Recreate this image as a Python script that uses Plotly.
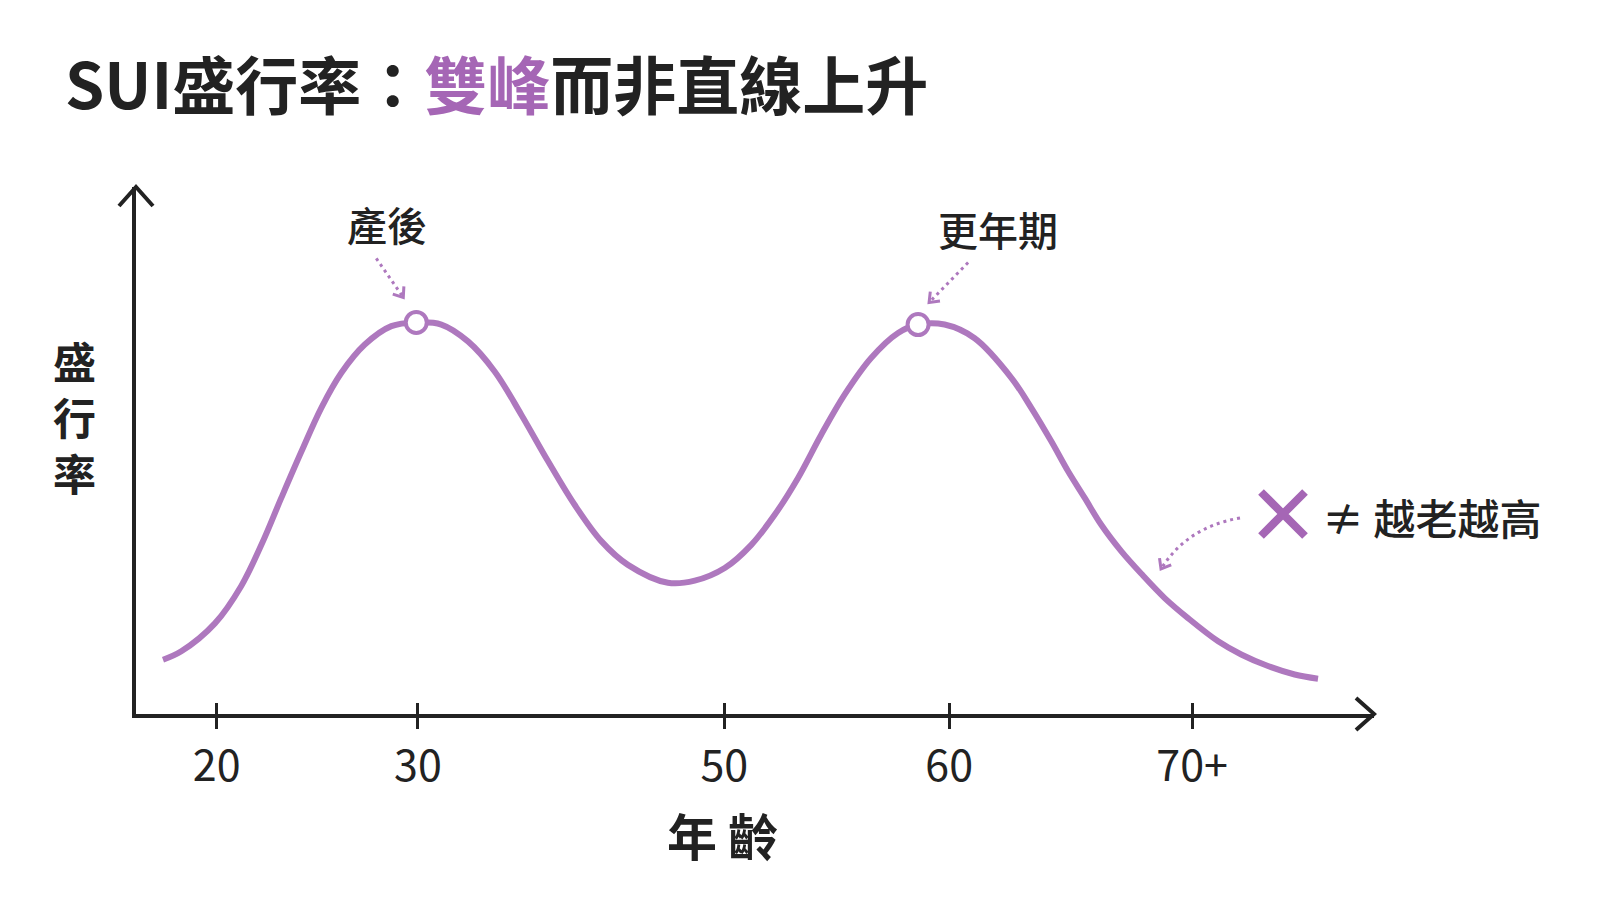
import numpy as np
import plotly.graph_objects as go

# ---------------- data ----------------
age_tick_values = [20, 30, 50, 60, 70]
age_tick_labels = ["20", "30", "50", "60", "70+"]

curve_age = [17.33, 18.24, 19.91, 21.22, 22.22, 23.21, 24.21, 25.20, 26.19, 27.36, 28.68, 29.92,
             31.53, 33.27, 35.01, 36.75, 38.49, 40.23, 41.97, 43.71, 46.32,
             48.07, 50.02, 51.20, 52.24, 53.28, 54.31, 55.35, 56.54, 57.73, 58.62,
             59.80, 61.05, 62.56, 63.38, 64.21, 64.89, 65.58, 66.26, 67.08, 67.91, 68.87,
             69.83, 71.07, 72.02, 73.12, 74.22, 75.18]
curve_prevalence = [10.3, 11.9, 17.2, 24.3, 32.1, 41.0, 49.8, 58.1, 64.7, 70.1, 73.6, 74.3,
                    73.9, 70.7, 65.0, 56.8, 48.0, 39.7, 32.8, 28.3, 24.9,
                    25.3, 27.7, 32.1, 37.8, 44.8, 53.0, 60.6, 67.6, 72.3, 73.9,
                    73.9, 71.3, 63.8, 58.1, 51.7, 46.1, 41.0, 35.9, 30.9, 26.6, 22.0,
                    18.2, 13.8, 11.3, 9.1, 7.5, 6.7]

peak_labels = ["產後", "更年期"]
peak_age = [29.92, 58.62]
peak_prevalence = [74.3, 73.9]

title_lead = "SUI盛行率："
title_highlight = "雙峰"
title_tail = "而非直線上升"
x_axis_title = "年 齡"
y_axis_title = "盛行率"
note_text = "≠ 越老越高"

# ---------------- style ----------------
W, H = 1600, 900
M_L, M_R, M_T, M_B = 128, 234, 179, 194
PURPLE = "#ae78be"
PURPLE_DARK = "#a566b5"
DARK = "#222222"
FONT = "Noto Sans CJK TC, Noto Sans, sans-serif"
# the reference axis is not linear in age: fractional placement of each age tick
tick_frac = [0.0652, 0.2277, 0.4752, 0.6568, 0.8531]


def age_to_pos(a):
    a = np.atleast_1d(np.asarray(a, float))
    xs = np.array(age_tick_values, float)
    ps = np.array(tick_frac, float)
    out = np.interp(a, xs, ps)
    lo, hi = a < xs[0], a > xs[-1]
    out[lo] = ps[0] + (a[lo] - xs[0]) * (ps[1] - ps[0]) / (xs[1] - xs[0])
    out[hi] = ps[-1] + (a[hi] - xs[-1]) * (ps[-1] - ps[-2]) / (xs[-1] - xs[-2])
    return out


def chevron(tip, direction, arm=11, ang=38):
    d = np.array(direction, float)
    d = d / np.linalg.norm(d)
    pts = []
    for s in (1, -1):
        t = np.radians(s * ang)
        r = np.array([d[0] * np.cos(t) - d[1] * np.sin(t), d[0] * np.sin(t) + d[1] * np.cos(t)])
        pts.append(np.array(tip) - arm * r)
    return "M {:.1f},{:.1f} L {:.1f},{:.1f} L {:.1f},{:.1f}".format(
        pts[0][0], pts[0][1], tip[0], tip[1], pts[1][0], pts[1][1])


fig = go.Figure()
fig.add_trace(go.Scatter(
    x=age_to_pos(curve_age), y=curve_prevalence, mode="lines",
    line=dict(color=PURPLE, width=6, shape="spline", smoothing=1.0),
    hoverinfo="skip", showlegend=False))
fig.add_trace(go.Scatter(
    x=age_to_pos(peak_age), y=peak_prevalence, mode="markers",
    marker=dict(symbol="circle", size=21, color="white", line=dict(color=PURPLE, width=4)),
    hoverinfo="skip", showlegend=False))
# invisible trace on the overlaid axis that draws the inner half of the ticks
fig.add_trace(go.Scatter(x=[0, 1], y=[0, 0], xaxis="x2", mode="lines",
                         line=dict(width=0), hoverinfo="skip", showlegend=False))

tick_pos = age_to_pos(age_tick_values).tolist()
axis_common = dict(range=[0, 1], showgrid=False, zeroline=False, fixedrange=True,
                   tickmode="array", tickvals=tick_pos)

shapes = []
# axis arrow heads
shapes.append(dict(type="path", xref="paper", yref="paper", xsizemode="pixel", ysizemode="pixel",
                   xanchor=0, yanchor=1, path="M -17,-19 L 0,0 L 17,-19",
                   line=dict(color=DARK, width=4)))
shapes.append(dict(type="path", xref="paper", yref="paper", xsizemode="pixel", ysizemode="pixel",
                   xanchor=1, yanchor=0, path="M -18,16 L 0,0 L -18,-16",
                   line=dict(color=DARK, width=4)))

# dotted pointers to the peaks (pixel offsets relative to each peak)
pointer_offsets = [((-40, 64), (-13, 25)), ((50, 62), (11, 22))]
for (px, py), ((sx, sy), (ex, ey)) in zip(zip(age_to_pos(peak_age), peak_prevalence), pointer_offsets):
    shapes.append(dict(type="line", xref="x", yref="y", xsizemode="pixel", ysizemode="pixel",
                       xanchor=px, yanchor=py, x0=sx, y0=sy, x1=ex, y1=ey,
                       line=dict(color=PURPLE, width=3, dash="3px,4px")))
    shapes.append(dict(type="path", xref="x", yref="y", xsizemode="pixel", ysizemode="pixel",
                       xanchor=px, yanchor=py, path=chevron((ex, ey), (ex - sx, ey - sy)),
                       line=dict(color=PURPLE, width=3)))

# cross mark and curved dotted pointer
cross_x, cross_y = 0.9265, 0.3795
shapes.append(dict(type="path", xref="paper", yref="paper", xsizemode="pixel", ysizemode="pixel",
                   xanchor=cross_x, yanchor=cross_y,
                   path="M -22,-22 L 22,22 M -22,22 L 22,-22",
                   line=dict(color=PURPLE_DARK, width=8)))
shapes.append(dict(type="path", xref="paper", yref="paper", xsizemode="pixel", ysizemode="pixel",
                   xanchor=cross_x, yanchor=cross_y,
                   path="M -43,-4 Q -96,-13 -122,-55",
                   line=dict(color=PURPLE, width=3, dash="3px,4px")))
shapes.append(dict(type="path", xref="paper", yref="paper", xsizemode="pixel", ysizemode="pixel",
                   xanchor=cross_x, yanchor=cross_y,
                   path=chevron((-122, -55), (-24, -41)),
                   line=dict(color=PURPLE, width=3)))

annotations = []
peak_label_shift = [(-29, 98), (80, 96)]
for lab, a, p, (dx, dy) in zip(peak_labels, peak_age, peak_prevalence, peak_label_shift):
    annotations.append(dict(x=float(age_to_pos(a)[0]), y=p, xref="x", yref="y", text=lab,
                            showarrow=False, xshift=dx, yshift=dy, xanchor="center", yanchor="middle",
                            font=dict(size=40, color=DARK, family=FONT, weight=500)))
annotations.append(dict(x=-0.05, y=0.566, xref="paper", yref="paper", xanchor="center", yanchor="middle",
                        text="<br>".join(list(y_axis_title)), showarrow=False,
                        font=dict(size=43, color=DARK, family=FONT, weight=700)))
annotations.append(dict(x=0.474, y=-0.227, xref="paper", yref="paper", text=x_axis_title,
                        xanchor="center", yanchor="middle", showarrow=False,
                        font=dict(size=50, color=DARK, family=FONT, weight=700)))
annotations.append(dict(x=0.956, y=0.3757, xref="paper", yref="paper", text=note_text,
                        showarrow=False, xanchor="left", yanchor="middle",
                        font=dict(size=42, color=DARK, family=FONT, weight=500)))

fig.update_layout(
    width=W, height=H, margin=dict(l=M_L, r=M_R, t=M_T, b=M_B),
    paper_bgcolor="white", plot_bgcolor="white",
    font=dict(family=FONT, color=DARK),
    title=dict(text=f"{title_lead}<span style='color:{PURPLE_DARK}'>{title_highlight}</span>{title_tail}",
               x=57 / W, xanchor="left", xref="container", y=1 - 79 / H, yanchor="middle",
               yref="container", font=dict(size=63, color=DARK, family=FONT, weight=700)),
    xaxis=dict(**axis_common, ticktext=age_tick_labels, ticks="outside", ticklen=11,
               tickwidth=3, tickcolor=DARK, showline=True, linewidth=4, linecolor=DARK,
               ticklabelstandoff=0,
               tickfont=dict(size=43, color=DARK, family=FONT)),
    xaxis2=dict(**axis_common, overlaying="x", matches="x", anchor="y", side="bottom",
                ticks="inside", ticklen=11, tickwidth=3, tickcolor=DARK,
                showticklabels=False, showline=False),
    yaxis=dict(range=[0, 100], showgrid=False, zeroline=False, fixedrange=True,
               showticklabels=False, ticks="", showline=True, linewidth=4, linecolor=DARK),
    shapes=shapes, annotations=annotations,
)

fig.write_html("out.html")
